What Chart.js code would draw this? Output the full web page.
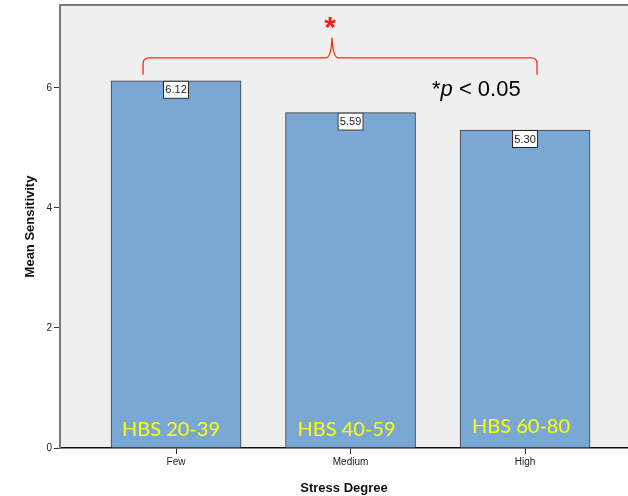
<!DOCTYPE html>
<html>
<head>
<meta charset="utf-8">
<script src="https://cdn.jsdelivr.net/npm/chart.js@4/dist/chart.umd.min.js"></script>
<style>
  html, body { margin: 0; padding: 0; background: #ffffff; }
  #wrap { width: 628px; height: 496px; }
</style>
</head>
<body>
<div id="wrap"><canvas id="c" width="628" height="496"></canvas></div>
<script>
// Stress groups and their mean sensitivity
const categories = ['Few', 'Medium', 'High'];
const meanSensitivity = [6.12, 5.59, 5.30];
const hbsRanges = ['HBS 20-39', 'HBS 40-59', 'HBS 60-80'];
const yTicks = [0, 2, 4, 6];
const sigMark = '*';
const sigNote = ['*', 'p', ' < 0.05'];

const points = categories.map((c, i) => ({ x: i, y: meanSensitivity[i] }));

// Plot-area background and frame
const frame = {
  id: 'frame',
  beforeDraw(chart) {
    const { ctx, chartArea: a } = chart;
    ctx.save();
    ctx.fillStyle = '#efefef';
    ctx.fillRect(a.left, a.top, a.right - a.left, a.bottom - a.top);
    ctx.strokeStyle = '#7a7a7a';
    ctx.lineWidth = 2;
    ctx.beginPath();
    ctx.moveTo(a.left, a.bottom);
    ctx.lineTo(a.left, a.top);
    ctx.lineTo(a.right, a.top);
    ctx.stroke();
    ctx.restore();
  }
};

// Value boxes, range captions and the significance bracket
const notes = {
  id: 'notes',
  afterDatasetsDraw(chart) {
    const { ctx } = chart;
    const meta = chart.getDatasetMeta(0);
    const ys = chart.scales.y;
    ctx.save();

    // value boxes at the top of each bar
    ctx.font = '11px "Liberation Sans", Arial, sans-serif';
    ctx.textAlign = 'center';
    ctx.textBaseline = 'middle';
    meta.data.forEach((bar, i) => {
      const txt = meanSensitivity[i].toFixed(2);
      const w = 26, h = 18;
      const x = bar.x - w / 2, y = bar.y;
      ctx.fillStyle = '#ffffff';
      ctx.fillRect(x, y, w, h);
      ctx.strokeStyle = '#222';
      ctx.lineWidth = 1;
      ctx.strokeRect(x + 0.5, y + 0.5, w - 1, h - 1);
      ctx.fillStyle = '#222';
      ctx.fillText(txt, bar.x, y + h / 2 + 0.5);
    });

    // HBS range captions inside the bars
    ctx.font = '20px Lato, "Open Sans", sans-serif';
    ctx.fillStyle = '#ffff00';
    ctx.textBaseline = 'alphabetic';
    const capShift = [-5, -4, -4];
    const capBase = [436, 436, 433];
    meta.data.forEach((bar, i) => {
      ctx.fillText(hbsRanges[i], bar.x + capShift[i], capBase[i]);
    });

    // significance bracket spanning Few .. High
    const xl = meta.data[0].x - 33;
    const xr = meta.data[2].x + 12;
    const xm = (xl + xr) / 2 - 8;
    const yEnd = ys.getPixelForValue(meanSensitivity[0]) - 6;
    const yLine = yEnd - 17;
    const yPeak = yLine - 20;
    ctx.strokeStyle = '#ff2a10';
    ctx.lineWidth = 1.3;
    ctx.beginPath();
    ctx.moveTo(xl, yEnd);
    ctx.lineTo(xl, yLine + 6);
    ctx.quadraticCurveTo(xl, yLine, xl + 6, yLine);
    ctx.lineTo(xm - 6, yLine);
    ctx.quadraticCurveTo(xm - 1, yLine, xm, yPeak);
    ctx.quadraticCurveTo(xm + 1, yLine, xm + 6, yLine);
    ctx.lineTo(xr - 6, yLine);
    ctx.quadraticCurveTo(xr, yLine, xr, yLine + 6);
    ctx.lineTo(xr, yEnd);
    ctx.stroke();

    ctx.fillStyle = '#ff1a1a';
    ctx.font = 'bold 30px "Liberation Sans", Arial, sans-serif';
    ctx.textAlign = 'center';
    ctx.textBaseline = 'alphabetic';
    ctx.fillText(sigMark, xm - 2, yPeak - 1);

    // p-value note
    ctx.fillStyle = '#000';
    ctx.textAlign = 'left';
    let x = 432;
    const base = 96;
    ctx.font = '22px "Liberation Sans", Arial, sans-serif';
    ctx.fillText(sigNote[0], x, base);
    x += ctx.measureText(sigNote[0]).width;
    ctx.font = 'italic 22px "Liberation Sans", Arial, sans-serif';
    ctx.fillText(sigNote[1], x, base);
    x += ctx.measureText(sigNote[1]).width;
    ctx.font = '22px "Liberation Sans", Arial, sans-serif';
    ctx.fillText(sigNote[2], x, base);

    ctx.restore();
  }
};

new Chart(document.getElementById('c'), {
  type: 'bar',
  data: {
    datasets: [{
      data: points,
      backgroundColor: '#7ba7d4',
      borderColor: '#3f3f3f',
      borderWidth: 1,
      barThickness: 130
    }]
  },
  options: {
    responsive: false,
    animation: false,
    devicePixelRatio: 1,
    layout: { padding: { top: 5, right: 0, left: 0, bottom: 0 } },
    plugins: { legend: { display: false }, tooltip: { enabled: false } },
    scales: {
      x: {
        type: 'linear',
        offset: false,
        min: -0.665,
        max: 2.59,
        afterBuildTicks(s) { s.ticks = categories.map((c, i) => ({ value: i })); },
        afterFit(s) { s.height = 48; s.paddingLeft = 0; s.paddingRight = 0; },
        ticks: {
          callback: v => categories[v],
          color: '#222',
          font: { size: 10, family: '"Liberation Sans", Arial, sans-serif' },
          padding: 2,
          maxRotation: 0
        },
        grid: { offset: false, drawOnChartArea: false, tickLength: 6, color: '#222', tickWidth: 1 },
        border: { color: '#111', width: 1.5 },
        title: {
          display: true,
          text: 'Stress Degree',
          color: '#111',
          font: { size: 13, weight: 'bold', family: '"Liberation Sans", Arial, sans-serif' },
          padding: { top: 0, bottom: 0 }
        }
      },
      y: {
        min: 0,
        max: 7.383,
        afterBuildTicks(s) { s.ticks = yTicks.map(v => ({ value: v })); },
        afterFit(s) { s.width = 60; s.paddingTop = 0; s.paddingBottom = 0; },
        ticks: {
          color: '#222',
          font: { size: 10, family: '"Liberation Sans", Arial, sans-serif' },
          padding: 2
        },
        grid: { drawOnChartArea: false, tickLength: 6, color: '#333', tickWidth: 1 },
        border: { color: '#7a7a7a', width: 2 },
        title: {
          display: true,
          text: 'Mean Sensitivity',
          color: '#111',
          font: { size: 13, weight: 'bold', family: '"Liberation Sans", Arial, sans-serif' },
          padding: { top: 23, bottom: 0 }
        }
      }
    }
  },
  plugins: [frame, notes]
});
</script>
</body>
</html>
